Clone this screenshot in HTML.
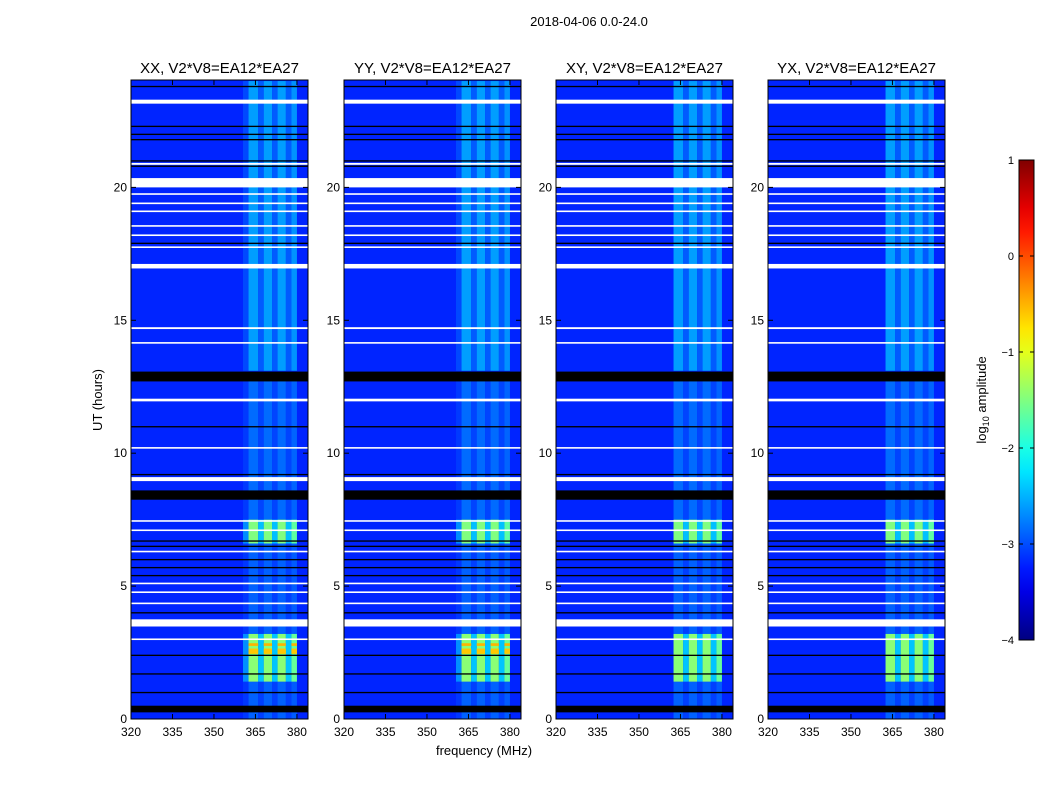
<!DOCTYPE html>
<html><head><meta charset="utf-8"><style>
body{margin:0;background:#fff;font-family:"Liberation Sans",sans-serif;}
svg text{font-family:"Liberation Sans",sans-serif;}
</style></head><body>
<svg id="fig" width="1050" height="800" xmlns="http://www.w3.org/2000/svg">
<text x="589" y="26" font-size="13" text-anchor="middle">2018-04-06 0.0-24.0</text>
<text x="484" y="755" font-size="13" text-anchor="middle">frequency (MHz)</text>
<text transform="translate(102,400) rotate(-90)" font-size="13" text-anchor="middle">UT (hours)</text>
<g id="panels"></g>
<g id="cbar"></g>
</svg>
<script>
const panelNames=["XX, V2*V8=EA12*EA27","YY, V2*V8=EA12*EA27","XY, V2*V8=EA12*EA27","YX, V2*V8=EA12*EA27"];
const panelLeft=[131,344,556,768];
const xTicks=[320,335,350,365,380];
const yTicks=[0,5,10,15,20];
const cbTicks=[1,0,-1,-2,-3,-4];
const whiteRows=[[23.15,23.3],[20.0,20.35],[20.85,20.92],[19.72,19.78],[19.37,19.43],[19.07,19.13],[18.52,18.58],[18.17,18.23],[17.72,17.78],[16.95,17.12],[14.67,14.74],[14.12,14.18],[11.95,12.05],[10.17,10.23],[8.95,9.1],[7.42,7.48],[7.07,7.13],[6.27,6.33],[5.07,5.13],[4.74,4.8],[4.32,4.38],[3.48,3.75],[2.97,3.03]];
const blackRows=[[23.77,23.82],[22.27,22.32],[21.97,22.02],[21.77,21.82],[20.97,21.02],[20.77,20.82],[17.87,17.92],[12.7,13.07],[10.97,11.02],[9.17,9.22],[8.25,8.6],[6.67,6.72],[6.47,6.52],[5.97,6.02],[5.67,5.72],[5.37,5.42],[3.97,4.02],[2.37,2.42],[1.67,1.72],[0.97,1.02],[0.25,0.5]];
// band time blocks: [start, end, level boost]
const bandBlocks=[[13.1,24,0.6],[7.5,13,0.35],[6.6,7.5,1.7],[3.2,6.6,0.3],[1.4,3.2,1.75],[0,1.4,0.3]];
// band sub-columns (MHz): [start,end,factor]
const bandCols=[[360.5,362.5,0.3],[362.5,366,1.0],[366,368,0.45],[368,371,1.0],[371,373,0.45],[373,376,1.0],[376,378,0.45],[378,380,0.9]];
const panelBandStart=[360.5,360.5,362.5,362.5];
const baseLevel=-3.2;
const hotRow=[[2.45,2.65,-0.6],[2.75,2.85,-0.5]];
const hotPanels=[0,1];
const PW=177,PT=80,PB=719,X0=320,X1=384,Y1=24.04;
function jet(v){let t=(v+4)/5;t=Math.max(0,Math.min(1,t));const c=x=>Math.round(255*Math.max(0,Math.min(1,1.5-Math.abs(x))));return `rgb(${c(4*t-3)},${c(4*t-2)},${c(4*t-1)})`;}
const NS="http://www.w3.org/2000/svg";
function el(tag,attrs,parent){const e=document.createElementNS(NS,tag);for(const k in attrs)e.setAttribute(k,attrs[k]);parent.appendChild(e);return e;}
const yS=h=>PB-(h/Y1)*(PB-PT);
const panelsG=document.getElementById('panels');
panelNames.forEach((name,p)=>{
  const L=panelLeft[p];const xS=f=>L+(f-X0)/(X1-X0)*PW;
  const g=el('g',{},panelsG);
  
  
  const bg=el('rect',{x:L,y:PT,width:PW,height:PB-PT,fill:jet(baseLevel)},g);
  
  
  bandBlocks.forEach(b=>{bandCols.forEach(c=>{
    const s=Math.max(c[0],panelBandStart[p]);if(s>=c[1])return;
    const r=el('rect',{x:xS(s),y:yS(b[1]),width:xS(c[1])-xS(s),height:yS(b[0])-yS(b[1]),fill:jet(baseLevel+b[2]*c[2])},g);
    
    
  });});
  if(hotPanels.includes(p))hotRow.forEach(h=>{bandCols.forEach(c=>{if(c[2]<0.9)return;
    const r=el('rect',{x:xS(c[0]),y:yS(h[1]),width:xS(c[1])-xS(c[0]),height:yS(h[0])-yS(h[1]),fill:jet(h[2])},g);
    
    });});
  whiteRows.forEach(w=>{const r=el('rect',{x:L,y:yS(w[1]),width:PW,height:Math.max(1.5,yS(w[0])-yS(w[1])),fill:'#fff'},g);
    
    });
  blackRows.forEach(w=>{const r=el('rect',{x:L,y:yS(w[1]),width:PW,height:Math.max(1.2,yS(w[0])-yS(w[1])),fill:'#000'},g);
    
    });
  el('rect',{x:L,y:PT,width:PW,height:PB-PT,fill:'none',stroke:'#000','stroke-width':1},g);
  const t=el('text',{x:L+PW/2,y:73,'font-size':15,'text-anchor':'middle'},g);t.textContent=name;
  
  
  xTicks.forEach(v=>{const x=xS(v);el('line',{x1:x,x2:x,y1:PB,y2:PB-5,stroke:'#000'},g);el('line',{x1:x,x2:x,y1:PT,y2:PT+5,stroke:'#000'},g);
    const tx=el('text',{x:x,y:PB+17,'font-size':12,'text-anchor':'middle'},g);tx.textContent=v;
    
    });
  yTicks.forEach(v=>{const y=yS(v);el('line',{x1:L,x2:L+5,y1:y,y2:y,stroke:'#000'},g);el('line',{x1:L+PW,x2:L+PW-5,y1:y,y2:y,stroke:'#000'},g);
    const ty=el('text',{x:L-4,y:y+4,'font-size':12,'text-anchor':'end'},g);ty.textContent=v;
    
    });
});
const cb=document.getElementById('cbar');const CX=1019,CW=15,CT=160,CB=640;
const defs=el('defs',{},cb);const gr=el('linearGradient',{id:'jg',x1:0,y1:1,x2:0,y2:0},defs);
for(let i=0;i<=20;i++){el('stop',{offset:i/20,'stop-color':jet(-4+5*i/20)},gr);}
el('rect',{x:CX,y:CT,width:CW,height:CB-CT,fill:'url(#jg)',stroke:'#000'},cb);
cbTicks.forEach(v=>{const y=CB-(v+4)/5*(CB-CT);el('line',{x1:CX,x2:CX+4,y1:y,y2:y,stroke:'#000'},cb);el('line',{x1:CX+CW,x2:CX+CW-4,y1:y,y2:y,stroke:'#000'},cb);
  const t=el('text',{x:CX-5,y:y+4,'font-size':11,'text-anchor':'end'},cb);t.textContent=(v<0?'\u2212'+(-v):v);
  
  });
const cl=el('text',{transform:'translate(986,400) rotate(-90)','font-size':13,'text-anchor':'middle'},cb);
cl.innerHTML='log<tspan font-size="9" dy="3">10</tspan><tspan dy="-3"> amplitude</tspan>';


</script>
</body></html>
